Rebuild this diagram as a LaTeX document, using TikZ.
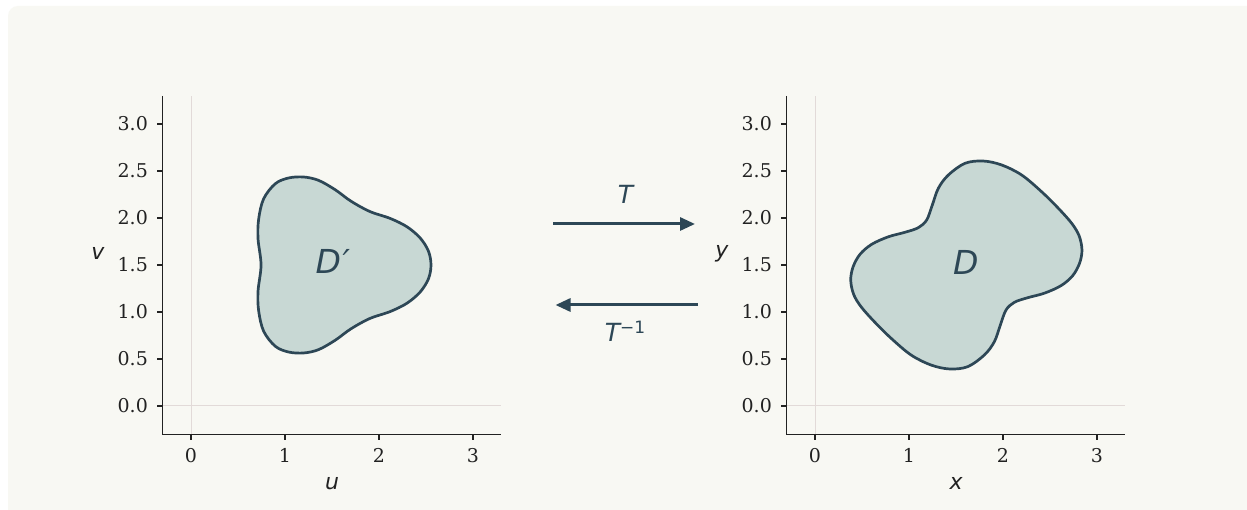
\documentclass[tikz,border=0pt]{standalone}
\usepackage{fontspec}
\usetikzlibrary{arrows.meta}
\newfontfamily\lblsans{DejaVu Sans}
\newfontfamily\ticksf{DejaVu Serif}
\definecolor{bgc}{HTML}{F8F8F3}
\definecolor{ink}{HTML}{2D4756}
\definecolor{regfill}{HTML}{C8D8D4}
\definecolor{gridc}{HTML}{E2DAD8}
\definecolor{axc}{HTML}{222222}
\newcommand{\drawpanel}[3]{%
  \draw[gridline] (0,-0.3) -- (0,3.3);
  \draw[gridline] (-0.3,0) -- (3.3,0);
  \draw[spine] (-0.3,3.3) -- (-0.3,-0.3) -- (3.3,-0.3);
  \foreach \v/\t [count=\i] in {0/0.0,0.5/0.5,1/1.0,1.5/1.5,2/2.0,2.5/2.5,3/3.0}{
    \draw[tickmark] (-0.3,\v) -- (-0.364,\v);
    \node[ticklab,anchor=east] (#1yt\i) at (-0.457,\v) {\t};
  }
  \foreach \u [count=\i] in {0,1,2,3}{
    \draw[tickmark] (\u,-0.3) -- (\u,-0.364);
    \node[ticklab,anchor=north] (#1xt\i) at (\u,-0.447) {\u};
  }
  \node[axlab] (#1xl) at (1.5,-0.822) {#2};
  \node[axlab] (#1yl) at (-0.99,1.62) {#3};
}
\begin{document}
\begin{tikzpicture}[x=1pt,y=1pt,
  spine/.style={draw=axc,line width=1.3pt},
  tickmark/.style={draw=axc,line width=1.2pt},
  gridline/.style={draw=gridc,line width=1pt},
  ticklab/.style={font=\ticksf\fontsize{19}{19}\selectfont,text=axc,inner sep=0pt},
  axlab/.style={font=\lblsans\itshape\fontsize{22}{22}\selectfont,text=axc,inner sep=0pt},
  region/.style={draw=ink,fill=regfill,line width=2.7pt,line join=round},
  reglab/.style={font=\lblsans\itshape\fontsize{33}{33}\selectfont,text=ink,inner sep=0pt,anchor=base},
  maparrow/.style={draw=ink,line width=3pt,-{Triangle[length=15pt,width=13pt]}},
  maplab/.style={font=\lblsans\itshape\fontsize{25}{25}\selectfont,text=ink,inner sep=0pt,anchor=base},
]
\useasboundingbox (0,0) rectangle (1247,510);
\fill[white] (0,0) rectangle (1247,510);
\begin{scope}
  \clip (0,0) rectangle (1247,510);
  \fill[bgc,rounded corners=10pt] (8,-20) rectangle (1262,504);
\end{scope}

% left panel (u,v)
\begin{scope}[shift={(191pt,104pt)},x=94pt,y=94pt]
  \drawpanel{L}{u}{v}
  \draw[region] plot[smooth cycle,tension=0.55] coordinates {
    (2.553,1.50) (2.527,1.645) (2.44,1.785) (2.30,1.905) (2.12,1.995)
    (1.90,2.07) (1.70,2.18) (1.535,2.30) (1.358,2.40) (1.199,2.436)
    (1.039,2.426) (0.897,2.365) (0.773,2.205) (0.72,1.99) (0.713,1.78)
    (0.745,1.50)
    (0.713,1.22) (0.72,1.01) (0.773,0.795) (0.897,0.635) (1.039,0.574)
    (1.199,0.564) (1.358,0.60) (1.535,0.70) (1.70,0.82) (1.90,0.93)
    (2.12,1.005) (2.30,1.095) (2.44,1.215) (2.527,1.355)};
  \node[reglab] (Dp) at (1.51,1.41) {D\kern1.5pt′};
\end{scope}

% right panel (x,y)
\begin{scope}[shift={(815pt,104pt)},x=94pt,y=94pt]
  \drawpanel{R}{x}{y}
  \draw[region] plot[smooth cycle,tension=0.55] coordinates {
    (2.84,1.66) (2.81,1.81) (2.731,1.943) (2.589,2.103) (2.41,2.28)
    (2.199,2.457) (1.986,2.564) (1.79,2.606) (1.596,2.582) (1.418,2.457)
    (1.312,2.316) (1.248,2.138) (1.188,1.979) (1.099,1.897) (0.957,1.848)
    (0.78,1.80) (0.603,1.72) (0.479,1.614) (0.405,1.48)
    (0.38,1.34)
    (0.41,1.19) (0.489,1.057) (0.631,0.897) (0.81,0.72) (1.021,0.543)
    (1.234,0.436) (1.43,0.394) (1.624,0.418) (1.802,0.543) (1.908,0.684)
    (1.972,0.862) (2.032,1.021) (2.121,1.103) (2.263,1.152) (2.44,1.20)
    (2.617,1.28) (2.741,1.386) (2.815,1.52)};
  \node[reglab] (D) at (1.604,1.40) {D};
\end{scope}

% mapping arrows
\coordinate (fs) at (553,286);
\coordinate (fe) at (695,286);
\coordinate (bs) at (698,205);
\coordinate (be) at (555.5,205);
\draw[maparrow] (fs) -- (fe);
\draw[maparrow] (bs) -- (be);
\node[maplab] (Tl) at (625.5,306) {T};
\node[maplab] (Til) at (625,168.3) {T\raisebox{8.3pt}{\upshape\fontsize{17}{17}\selectfont −1}};
\end{tikzpicture}
\end{document}
